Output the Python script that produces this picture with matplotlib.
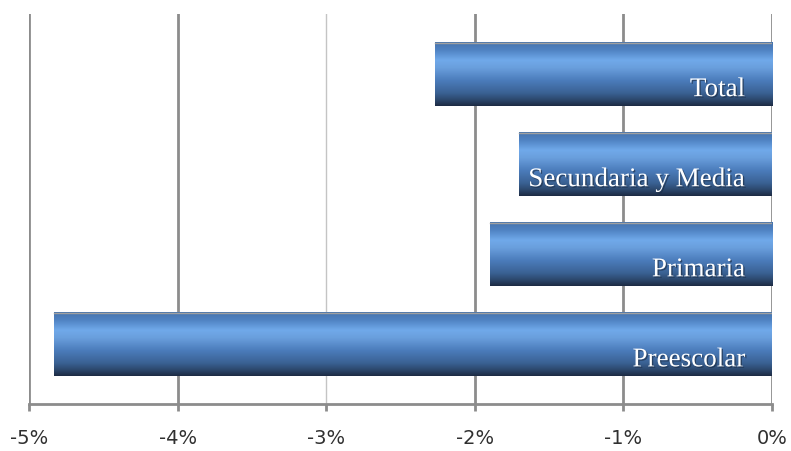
import numpy as np
import matplotlib
matplotlib.use("Agg")
import matplotlib.pyplot as plt
from matplotlib.colors import LinearSegmentedColormap
import matplotlib.patheffects as pe

# Variación porcentual por nivel (de abajo hacia arriba)
niveles = ["Preescolar", "Primaria", "Secundaria y Media", "Total"]
variacion = [-4.83, -1.90, -1.70, -2.27]
ticks = [-5, -4, -3, -2, -1, 0]
tick_labels = ["-5%", "-4%", "-3%", "-2%", "-1%", "0%"]

# degradado vertical tipo "cilindro" (arriba -> abajo)
grad = LinearSegmentedColormap.from_list("barra", [
    (0.00, "#4674ad"),
    (0.12, "#4f82c2"),
    (0.28, "#70a9ea"),
    (0.40, "#6a9fdd"),
    (0.60, "#4b7cbb"),
    (0.80, "#3a6193"),
    (0.92, "#2a4467"),
    (1.00, "#1d2b44"),
])

fig = plt.figure(figsize=(7.91, 4.52), dpi=100)
ax = fig.add_axes([29 / 791, 47 / 452, 743 / 791, 390 / 452])

alto = 0.70
for i, (nombre, v) in enumerate(zip(niveles, variacion)):
    y0, y1 = i - alto / 2, i + alto / 2
    col = np.linspace(0, 1, 200).reshape(-1, 1)
    ax.imshow(col, cmap=grad, aspect="auto", origin="upper",
              extent=(v, 0, y0, y1), zorder=3, interpolation="bilinear")
    ax.plot([v, 0], [y1, y1], color="#a0a0a0", lw=1.0, zorder=4)
    ax.text(-0.18, i - 0.17, nombre, ha="right", va="center",
            family="Liberation Serif", fontsize=19.5, color="white", zorder=5,
            path_effects=[pe.withSimplePatchShadow(offset=(1, -1),
                                                   shadow_rgbFace="#1a2a40",
                                                   alpha=0.6)])

ax.set_xlim(-5, 0)
ax.set_ylim(-0.66, 3.67)

# líneas de división verticales
for t in ticks:
    if t == -3:
        ax.axvline(t, color="#c4c4c4", lw=1.0, zorder=1)
    else:
        ax.axvline(t, color="#8c8c8c", lw=2.0, zorder=1)

ax.set_xticks(ticks)
ax.set_xticklabels(tick_labels, fontsize=14, color="#303030",
                   family="DejaVu Sans")
ax.tick_params(axis="x", direction="out", length=5, width=2,
               color="#8c8c8c", pad=12)
ax.set_yticks([])
for s in ["top", "left", "right"]:
    ax.spines[s].set_visible(False)
ax.spines["bottom"].set_color("#8c8c8c")
ax.spines["bottom"].set_linewidth(2)

fig.savefig("out.png", dpi=100, facecolor="white")
